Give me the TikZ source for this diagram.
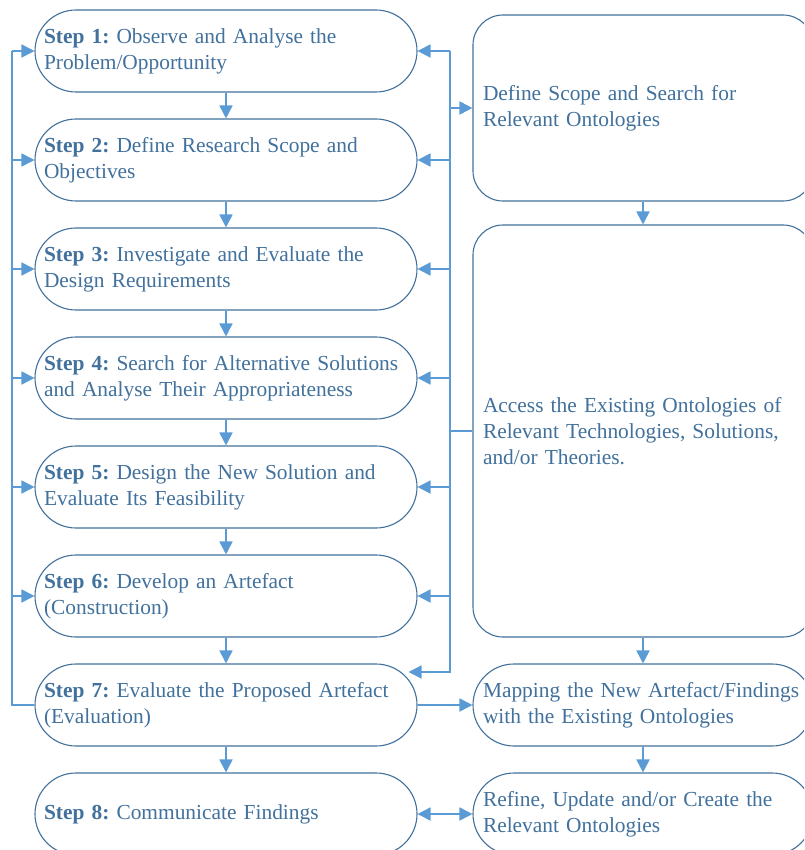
\documentclass[tikz,border=0pt]{standalone}
\usepackage{fontspec}
\setmainfont{Liberation Serif}
\usetikzlibrary{arrows.meta}
\frenchspacing
\hyphenpenalty=10000
\exhyphenpenalty=10000
\definecolor{boxline}{HTML}{41719C}
\definecolor{flow}{HTML}{5B9BD5}
\tikzset{
  stepbox/.style={draw=boxline, line width=1.1pt, fill=white, rounded corners=41pt,
    minimum width=382pt, minimum height=82pt, text width=364pt, inner xsep=9pt,
    align=left, text=boxline, font=\fontsize{21.4}{26}\selectfont},
  ontobox/.style={stepbox, rounded corners=30pt, minimum width=340pt,
    text width=320pt, inner xsep=10pt},
  flowline/.style={draw=flow, line width=1.8pt},
}
\begin{document}
\begin{tikzpicture}[x=1pt,y=-1pt,>={Triangle[length=13pt,width=13pt]}]
  \useasboundingbox (0,0) rectangle (804,850);
  \clip (0,0) rectangle (804,850);
  % steps
  \node[stepbox] (s1) at (226,51) {\textbf{Step 1:} Observe and Analyse the\\Problem/Opportunity};
  \node[stepbox] (s2) at (226,160) {\textbf{Step 2:} Define Research Scope and\\Objectives};
  \node[stepbox] (s3) at (226,269) {\textbf{Step 3:} Investigate and Evaluate the\\Design Requirements};
  \node[stepbox] (s4) at (226,378) {\textbf{Step 4:} Search for Alternative Solutions\\and Analyse Their Appropriateness};
  \node[stepbox] (s5) at (226,487) {\textbf{Step 5:} Design the New Solution and\\Evaluate Its Feasibility};
  \node[stepbox] (s6) at (226,596) {\textbf{Step 6:} Develop an Artefact\\(Construction)};
  \node[stepbox] (s7) at (226,705) {\textbf{Step 7:} Evaluate the Proposed Artefact\\(Evaluation)};
  \node[stepbox] (s8) at (226,814) {\textbf{Step 8:} Communicate Findings};
  % ontologies
  \node[ontobox, minimum height=186pt] (o1) at (643,108) {Define Scope and Search for\\Relevant Ontologies};
  \node[ontobox, minimum height=412pt] (o2) at (643,431) {Access the Existing Ontologies of\\Relevant Technologies, Solutions,\\and/or Theories.};
  \node[ontobox, rounded corners=41pt] (o3) at (643,705) {Mapping the New Artefact/Findings\\with the Existing Ontologies};
  \node[ontobox, rounded corners=41pt] (o4) at (643,814) {Refine, Update and/or Create the\\Relevant Ontologies};
  % bus lines
  \coordinate (lbus) at (12,0);
  \coordinate (rbus) at (450,0);
  \coordinate (s7in) at ([shift={(-9,-33)}]s7.east);
  % down arrows
  \foreach \a/\b in {s1/s2,s2/s3,s3/s4,s4/s5,s5/s6,s6/s7,s7/s8,o1/o2,o2/o3,o3/o4}
    \draw[flowline,->] (\a) -- (\b);
  % loop back on the left
  \draw[flowline] (s7.west) -- (lbus |- s7.west) -- (lbus |- s1.west);
  \foreach \i in {1,...,6}
    \draw[flowline,->] (lbus |- s\i.west) -- (s\i.west);
  % loop back on the right
  \draw[flowline,->] (rbus |- s1.east) -- (rbus |- s7in) -- (s7in);
  \foreach \i in {1,...,6}
    \draw[flowline,->] (rbus |- s\i.east) -- (s\i.east);
  \draw[flowline,->] (rbus |- o1.west) -- (o1.west);
  \draw[flowline] (rbus |- o2.west) -- (o2.west);
  \draw[flowline,->] (s7.east) -- (o3.west);
  \draw[flowline,<->] (s8) -- (o4);
\end{tikzpicture}
\end{document}
